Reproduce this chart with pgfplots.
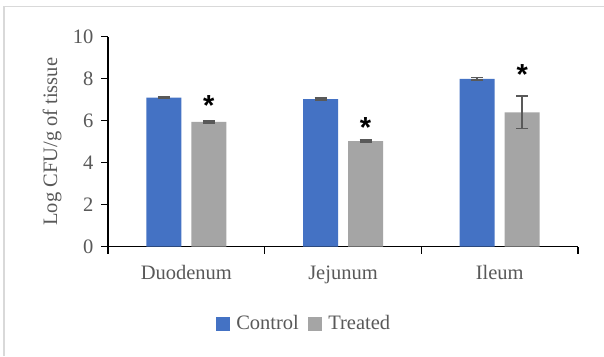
\documentclass[border=0pt]{standalone}
\usepackage{pgfplots}
\pgfplotsset{compat=1.18}
\usepackage{fontspec}
\setmainfont{Liberation Serif}
\newfontfamily\starfont{Liberation Sans}
\definecolor{ctrl}{HTML}{4472C4}
\definecolor{trt}{HTML}{A5A5A5}
\definecolor{txt}{HTML}{595959}
\definecolor{errc}{HTML}{595959}
\definecolor{framec}{HTML}{D9D9D9}
\begin{document}
\begin{tikzpicture}
\useasboundingbox (0,0) rectangle (604pt,356pt);
\fill[white] (0,0) rectangle (604pt,356pt);
\draw[framec, line width=1.5pt] (4pt,0) -- (4pt,349.3pt) -- (604pt,349.3pt);
\begin{axis}[
  at={(108pt,109.3pt)}, anchor=south west,
  scale only axis, width=470pt, height=210pt,
  xmin=-0.5, xmax=2.5, ymin=0, ymax=10,
  axis x line*=bottom, axis y line*=left,
  axis line style={black, line width=1.2pt},
  /pgf/number format/assume math mode=true,
  xtick={-0.5,0.5,1.5,2.5}, xticklabels={},
  extra x ticks={0,1,2},
  extra x tick labels={Duodenum,Jejunum,Ileum},
  extra x tick style={major tick length=0pt,
     tick label style={anchor=base, yshift=-33pt}},
  x tick label style={font=\fontsize{20.5}{24}\selectfont, text=txt},
  ytick={0,2,...,10},
  tick align=outside, major tick length=7pt,
  tick style={black, line width=1.2pt},
  y tick label style={font=\fontsize{20.5}{24}\selectfont, text=txt, xshift=-4pt},
  ylabel={Log CFU/g of tissue},
  ylabel style={at={(axis description cs:-0.119,0.5)}, anchor=center,
     font=\fontsize{20.5}{24}\selectfont, text=txt},
  legend style={at={(axis description cs:0.415,-0.366)}, anchor=center,
     draw=none, fill=none, legend columns=2,
     font=\fontsize{20.5}{24}\selectfont, text=txt,
     nodes={inner xsep=0pt},
     /tikz/every odd column/.append style={column sep=7pt},
     /tikz/every even column/.append style={column sep=9pt}},
  error bars/error bar style={errc, line width=1.5pt},
  error bars/error mark options={errc, rotate=90, mark size=6pt, line width=1.5pt},
]
\addlegendimage{legend image code/.code={\fill[ctrl] (0pt,-6.5pt) rectangle (13pt,6.5pt);}}
\addlegendentry{Control}
\addlegendimage{legend image code/.code={\fill[trt] (0pt,-6.5pt) rectangle (13pt,6.5pt);}}
\addlegendentry{Treated}
\addplot[ybar, bar width=35pt, bar shift=0pt, fill=ctrl, draw=none, forget plot,
  error bars/.cd, y dir=both, y explicit]
  coordinates {(-0.1436,7.10) +- (0,0.04) (0.8564,7.03) +- (0,0.04) (1.8564,7.99) +- (0,0.06)};
\addplot[ybar, bar width=35pt, bar shift=0pt, fill=trt, draw=none, forget plot,
  error bars/.cd, y dir=both, y explicit]
  coordinates {(0.1436,5.94) +- (0,0.04) (1.1436,5.03) +- (0,0.04) (2.1436,6.40) +- (0,0.77)};
\addplot[draw=none, mark=none, forget plot,
  nodes near coords={\starfont\bfseries *},
  nodes near coords style={anchor=center, yshift=-6pt,
     font=\fontsize{29}{30}\selectfont, text=black}]
  coordinates {(0.1436,7.02) (1.1436,5.96) (2.1436,8.47)};
\end{axis}
\end{tikzpicture}
\end{document}
